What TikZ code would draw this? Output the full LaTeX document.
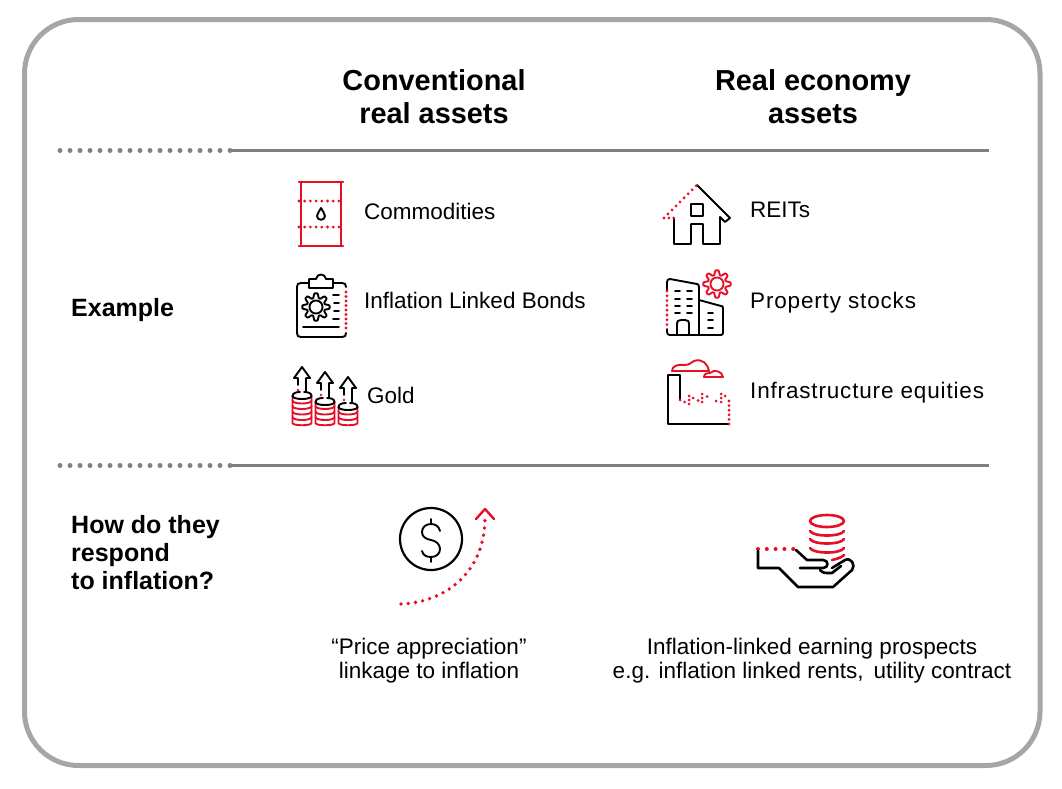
\documentclass[tikz,border=0pt]{standalone}
\usepackage{fontspec}
\setmainfont{Liberation Sans}
\definecolor{redicon}{HTML}{E60F28}
\definecolor{framegray}{HTML}{A6A6A6}
\definecolor{rulegray}{HTML}{808080}
\tikzset{
  heading/.style={font=\fontsize{28.9}{33}\selectfont\bfseries, align=center, inner sep=0pt, anchor=base},
  rowlabel/.style={font=\fontsize{25}{28}\selectfont\bfseries, align=left, inner sep=0pt, anchor=base west},
  itemlabel/.style={font=\fontsize{22.5}{24}\selectfont, inner sep=0pt, anchor=base west},
  widelabel/.style={itemlabel, font=\fontsize{22.5}{24}\selectfont\addfontfeatures{LetterSpace=3.7}},
  note/.style={font=\fontsize{22.5}{24}\selectfont, align=center, inner sep=0pt, anchor=base},
  icon/.style={line width=1.9pt, line join=round, line cap=round},
  redline/.style={icon, redicon},
  reddots/.style={redicon, line width=3.1pt, line cap=round, dash pattern=on 0pt off #1},
  reddots/.default=6.5pt,
  rulesolid/.style={rulegray, line width=3pt},
  ruledots/.style={rulegray, line width=5pt, line cap=round, dash pattern=on 0pt off 10pt},
}
\newcommand{\gearpath}[4]{% x, y, radius, colour
  \draw[icon, #4] plot[smooth, domain=0:360, samples=145]
    ({#1+(#3+2.2*max(-1,min(1,1.5*cos(8*\x))))*cos(\x)}, {#2+(#3+2.2*max(-1,min(1,1.5*cos(8*\x))))*sin(\x)}) -- cycle;
  \draw[icon, #4] (#1,#2) circle (#3*0.57);
}
\begin{document}
\begin{tikzpicture}[x=1pt, y=-1pt]
  \useasboundingbox (0,0) rectangle (1062,788);
  \draw[framegray, line width=5pt, rounded corners=54pt] (24.5,19.5) rectangle (1040,765.5);

  % table rules
  \draw[ruledots] (60,150.5) -- (230.5,150.5);
  \draw[rulesolid] (230,150.5) -- (989,150.5);
  \draw[ruledots] (60,465.5) -- (230.5,465.5);
  \draw[rulesolid] (230,465.5) -- (989,465.5);

  \node[heading] (conventional) at (434,123) {Conventional\\real assets};
  \node[heading] (realeconomy) at (813,123) {Real economy\\assets};
  \node[rowlabel] (example) at (71,316) {Example};
  \node[rowlabel] (respond) at (71,589) {How do they\\respond\\to inflation?};

  \node[itemlabel] (commodities) at (364,219) {Commodities};
  \node[itemlabel] (bonds) at (364,308) {Inflation Linked Bonds};
  \node[itemlabel] (gold) at (367,403) {Gold};
  \node[itemlabel] (reits) at (750,217) {REITs};
  \node[widelabel] (property) at (750,308) {Property stocks};
  \node[widelabel] (infra) at (750,398) {Infrastructure equities};
  \node[note] (pricenote) at (429,678) {``Price appreciation''\\linkage to inflation};
  \node[note] (earnnote) at (812,678) {Inflation-linked earning prospects\\e.g. inflation linked rents,\, utility contract};

  % barrel
  \draw[redline, line width=2.2pt] (301,182) -- (301,246) (341,182) -- (341,246);
  \draw[redline, line width=2.2pt] (299,182) -- (343,182) (299,246) -- (343,246);
  \draw[reddots=5.7pt] (299,201) -- (343.5,201);
  \draw[reddots=5.7pt] (299,227) -- (343.5,227);
  \draw[icon, black] (321,208) .. controls (322,211) and (325,213) .. (325,216)
    .. controls (325,221) and (317,221) .. (317,216) .. controls (317,213) and (320,211) .. (321,208);

  % clipboard
  \draw[icon, black] (309,283) -- (301,283) .. controls (298,283) and (297,284) .. (297,287) -- (297,333)
    .. controls (297,336) and (298,337) .. (301,337) -- (342,337) .. controls (345,337) and (346,336) .. (346,333);
  \draw[icon, black] (333,283) -- (342,283) .. controls (345,283) and (346,284) .. (346,287);
  \draw[reddots=4.5pt] (346,292) -- (346,329);
  \draw[icon, black] (309,288) -- (309,279) -- (316,279) .. controls (317,273) and (325,273) .. (326,279) -- (333,279) -- (333,288) -- cycle;
  \gearpath{316}{307}{11.5}{black}
  \draw[icon, black] (333,295) -- (339,295) (334,303) -- (339,303) (334,311) -- (339,311) (333,319) -- (339,319);
  \draw[icon, black] (303,327) -- (339,327);

  % gold stacks
  \foreach \cx/\ty/\tip in {302/396/367, 325/402/372, 348/407/377} {
    \draw[icon, black] (\cx-9.5,\ty) .. controls (\cx-9.5,\ty-4) and (\cx-3,\ty-4) .. (\cx-2,\ty-4)
      (\cx+2,\ty-4) .. controls (\cx+6,\ty-4) and (\cx+9.5,\ty-3) .. (\cx+9.5,\ty);
    \draw[redline] (\cx-9.5,\ty) -- (\cx-9.5,423) .. controls (\cx-9.5,426) and (\cx+9.5,426) .. (\cx+9.5,423) -- (\cx+9.5,\ty);
    \draw[icon, black] (\cx-9.5,\ty) .. controls (\cx-9.5,\ty+4) and (\cx+9.5,\ty+4) .. (\cx+9.5,\ty);
    \foreach \ry in {417,411.5,406,400.5} {
      \pgfmathparse{\ry>\ty+3 ? 1 : 0}
      \ifnum\pgfmathresult=1
        \draw[redline] (\cx-9.5,\ry) .. controls (\cx-9.5,\ry+4) and (\cx+9.5,\ry+4) .. (\cx+9.5,\ry);
      \fi
    }
    \draw[icon, black] (\cx-4,\tip+18) -- (\cx-4,\tip+11) -- (\cx-8,\tip+11) -- (\cx,\tip) -- (\cx+8,\tip+11) -- (\cx+4,\tip+11) -- (\cx+4,\ty-4);
    \fill[redicon] (\cx-4,\tip+23) circle (1.4pt);
  }

  % house
  \draw[icon, black] (697,185) -- (730,218) -- (725,222) -- (720,217) -- (720,244) -- (703,244) -- (703,224) -- (691,224) -- (691,244) -- (674,244) -- (674,218);
  \draw[icon, black] (691,204) rectangle (703,216);
  \draw[reddots=4.8pt] (664,218) -- (674,218);
  \draw[reddots=5.7pt] (668,214) -- (697,185);

  % building
  \draw[icon, black] (667,290) -- (667,282) .. controls (667,280) and (668,279) .. (670,279) -- (697,284) .. controls (698,284) and (699,285) .. (699,287) -- (699,335);
  \draw[icon, black] (667,329) -- (667,332) .. controls (667,334) and (668,335) .. (670,335) -- (721,335) .. controls (722,335) and (723,334) .. (723,333) -- (723,308) .. controls (723,306) and (722,306) .. (721,306) -- (699,300);
  \draw[reddots=4.8pt] (667,291) -- (667,325);
  \draw[icon, black] (677,335) -- (677,325) .. controls (677,321) and (678,320) .. (681,320) -- (685,320) .. controls (688,320) and (689,321) .. (689,325) -- (689,335);
  \foreach \wy in {291,299,306,313}
    \draw[icon, black] (675,\wy) -- (680,\wy) (687,\wy) -- (692,\wy);
  \foreach \wy in {313,320,328}
    \draw[icon, black] (708,\wy) -- (713,\wy);
  \gearpath{717}{284}{11.5}{redicon}

  % factory
  \draw[icon, black] (680,400) -- (680,375) -- (668,375) -- (668,424) -- (728,424);
  \draw[reddots=4.6pt] (729,424) -- (729,398);
  \foreach \dotx/\doty in {680/400, 684.5/402, 689/404, 689/400, 689/396, 693/398, 698/400.5, 702/402, 702/398, 702/394, 707/396.5, 716/401, 721/402, 721/398, 721/394, 725/396}
    \fill[redicon] (\dotx,\doty) circle (1.5pt);
  \draw[redline] (672,371) .. controls (672,366) and (678,364) .. (684,365) .. controls (690,365) and (690,363) .. (694,361)
    .. controls (702,358) and (708,364) .. (709,371) -- cycle;
  \draw[redline] (704,377) .. controls (704,373) and (708,373) .. (710,373) .. controls (714,369) and (722,371) .. (723,377) -- cycle;

  % dollar coin and rising arrow
  \draw[line width=2.2pt, black] (431,539) circle (31);
  \draw[icon, black] (440,531) .. controls (439,526) and (435,524) .. (431,524) .. controls (426,524) and (422,527) .. (422,532)
    .. controls (422,537) and (426,539) .. (431,540) .. controls (436,541) and (440,544) .. (440,549)
    .. controls (440,554) and (436,557) .. (431,557) .. controls (426,557) and (423,555) .. (422,551);
  \draw[icon, black] (431,519) -- (431,524) (431,557) -- (431,562);
  \draw[reddots=7.3pt, line width=3.8pt] (401,604) .. controls (448,602) and (485,570) .. (485,518);
  \draw[redline, line width=2.4pt] (476,519) -- (485,509) -- (494,519);

  % hand with coins
  \draw[redline, line width=2.6pt] (827,521) ellipse (17 and 6);
  \draw[redline, line width=2.6pt] (810,531) .. controls (813,537) and (841,537) .. (844,531);
  \draw[redline, line width=2.6pt] (810,539) .. controls (813,545) and (841,545) .. (844,539);
  \draw[redline, line width=2.6pt] (810,548) .. controls (813,554) and (841,554) .. (844,548);
  \draw[redline, line width=2.6pt] (832,560) .. controls (836,559) and (841,558) .. (844,555);
  \draw[reddots=8.8pt, line width=4pt] (758,549) -- (795.5,549);
  \draw[icon, black, line width=2.6pt] (758,551) -- (758,568) -- (779,568) -- (798,587) -- (833,587) -- (852,570)
    .. controls (856,565) and (851,557) .. (845,560) -- (832,568);
  \draw[icon, black, line width=2.6pt] (796,550) -- (807,560) -- (823,560) .. controls (829,560) and (829,568) .. (823,568) -- (800,568);
  \draw[icon, black, line width=2.6pt] (820,570) .. controls (823,573) and (825,573) .. (827,573) -- (832,573) -- (841,566);
\end{tikzpicture}
\end{document}
